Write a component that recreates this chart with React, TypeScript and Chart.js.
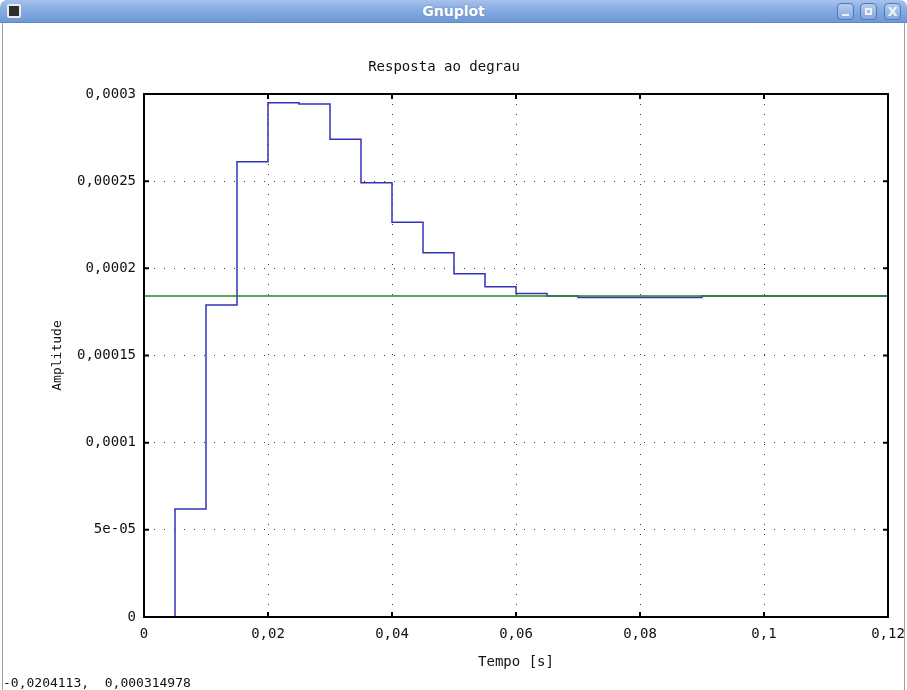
import React, { useEffect, useRef } from "react";
import { Chart, registerables } from "chart.js";

Chart.register(...registerables);

// ---- data ----
const stepTimes = [
  0, 0.005, 0.01, 0.015, 0.02, 0.025, 0.03, 0.035, 0.04, 0.045, 0.05, 0.055,
  0.06, 0.065, 0.07, 0.075, 0.08, 0.085, 0.09, 0.095, 0.1, 0.105, 0.11, 0.115, 0.12,
];
const stepAmplitude = [
  0, 6.2e-5, 1.789e-4, 2.611e-4, 2.95e-4, 2.943e-4, 2.74e-4, 2.491e-4, 2.264e-4,
  2.089e-4, 1.969e-4, 1.894e-4, 1.856e-4, 1.841e-4, 1.832e-4, 1.832e-4, 1.832e-4,
  1.832e-4, 1.841e-4, 1.841e-4, 1.841e-4, 1.841e-4, 1.841e-4, 1.841e-4, 1.841e-4,
];
const finalTimes = [0, 0.12];
const finalAmplitude = [1.841e-4, 1.841e-4];

const xTickValues = [0, 0.02, 0.04, 0.06, 0.08, 0.1, 0.12];
const xTickLabels = ["0", "0,02", "0,04", "0,06", "0,08", "0,1", "0,12"];
const yTickValues = [0, 5e-5, 1e-4, 1.5e-4, 2e-4, 2.5e-4, 3e-4];
const yTickLabels = ["0", "5e-05", "0,0001", "0,00015", "0,0002", "0,00025", "0,0003"];

const chartTitle = "Resposta ao degrau";
const xTitle = "Tempo [s]";
const yTitle = "Amplitude";
const windowTitle = "Gnuplot";
const readout = "-0,0204113,  0,000314978";

const MONO = '"DejaVu Sans Mono", monospace';

const framePlugin = {
  id: "gnuplotFrame",
  afterDatasetsDraw(chart: any) {
    const { ctx, chartArea: a, scales } = chart;
    const len = 5;
    ctx.save();
    ctx.strokeStyle = "#000";
    ctx.lineWidth = 2;
    ctx.beginPath();
    xTickValues.forEach((v) => {
      const px = scales.x.getPixelForValue(v);
      ctx.moveTo(px, a.bottom);
      ctx.lineTo(px, a.bottom - len);
      ctx.moveTo(px, a.top);
      ctx.lineTo(px, a.top + len);
    });
    yTickValues.forEach((v) => {
      const py = scales.y.getPixelForValue(v);
      ctx.moveTo(a.left, py);
      ctx.lineTo(a.left + len, py);
      ctx.moveTo(a.right, py);
      ctx.lineTo(a.right - len, py);
    });
    ctx.stroke();
    ctx.strokeRect(a.left, a.top, a.right - a.left, a.bottom - a.top);
    ctx.restore();
  },
};

function GnuplotChart() {
  const ref = useRef<HTMLCanvasElement | null>(null);
  useEffect(() => {
    if (!ref.current) return;
    const chart = new Chart(ref.current, {
      type: "line",
      data: {
        datasets: [
          {
            label: "final",
            data: finalTimes.map((t, i) => ({ x: t, y: finalAmplitude[i] })),
            borderColor: "#23852a",
            borderWidth: 1.5,
            pointRadius: 0,
            fill: false,
          },
          {
            label: "step",
            data: stepTimes.map((t, i) => ({ x: t, y: stepAmplitude[i] })),
            borderColor: "#3232b8",
            borderWidth: 1.5,
            pointRadius: 0,
            stepped: "before",
            fill: false,
          },
        ],
      },
      options: {
        responsive: false,
        animation: false,
        devicePixelRatio: 1,
        layout: { padding: { top: 0, left: 0, right: 19, bottom: 0 } },
        plugins: {
          legend: { display: false },
          tooltip: { enabled: false },
          title: {
            display: true,
            text: chartTitle,
            color: "#111",
            font: { family: MONO, size: 14, weight: "normal" },
            padding: { top: 34.6, bottom: 18.6 },
          },
        },
        scales: {
          x: {
            type: "linear",
            min: 0,
            max: 0.12,
            afterBuildTicks: (scale: any) => {
              scale.ticks = xTickValues.map((v) => ({ value: v }));
            },
            afterFit: (scale: any) => {
              scale.height = 73;
              scale.paddingLeft = 0;
              scale.paddingRight = 0;
            },
            ticks: {
              callback: (_v: any, i: number) => xTickLabels[i],
              color: "#111",
              font: { family: MONO, size: 14 },
              padding: 9,
              maxRotation: 0,
              autoSkip: false,
            },
            grid: { color: "#3a3a3a", lineWidth: 1, drawTicks: false },
            border: { display: false, dash: [1, 9] },
            title: {
              display: true,
              text: xTitle,
              color: "#111",
              font: { family: MONO, size: 14 },
              padding: { top: 0, bottom: 19.6 },
            },
          },
          y: {
            type: "linear",
            min: 0,
            max: 3e-4,
            afterBuildTicks: (scale: any) => {
              scale.ticks = yTickValues.map((v) => ({ value: v }));
            },
            afterFit: (scale: any) => {
              scale.width = 144;
              scale.paddingTop = 0;
              scale.paddingBottom = 0;
            },
            ticks: {
              callback: (_v: any, i: number) => yTickLabels[i],
              color: "#111",
              font: { family: MONO, size: 14 },
              padding: 8,
              autoSkip: false,
            },
            grid: { color: "#3a3a3a", lineWidth: 1, drawTicks: false },
            border: { display: false, dash: [1, 9] },
            title: {
              display: true,
              text: yTitle,
              color: "#111",
              font: { family: MONO, size: 13 },
              padding: { top: 49.6, bottom: 0 },
            },
          },
        },
      },
      plugins: [framePlugin],
    } as any);
    return () => chart.destroy();
  }, []);
  return (
    <canvas
      ref={ref}
      width={907}
      height={666}
      style={{ position: "absolute", left: 0, top: 24, width: 907, height: 666 }}
    />
  );
}

const btn: React.CSSProperties = {
  position: "absolute",
  top: 3,
  width: 17,
  height: 17,
  borderRadius: 4,
  border: "1px solid #4f79b9",
  background: "linear-gradient(to bottom, #b3cbee, #86a9de)",
  boxSizing: "border-box",
};

export default function App() {
  return (
    <div
      style={{
        position: "absolute",
        left: 0,
        top: 0,
        width: 907,
        height: 690,
        background: "#fff",
        overflow: "hidden",
      }}
    >
      <div
        style={{
          position: "absolute",
          left: 0,
          top: 0,
          width: 907,
          height: 23,
          borderTopLeftRadius: 7,
          borderTopRightRadius: 7,
          background: "linear-gradient(to bottom, #a6c2eb 0%, #86ace2 45%, #6f98d5 100%)",
          borderBottom: "1px solid #5f88c6",
          boxSizing: "border-box",
        }}
      >
        <div
          style={{
            position: "absolute",
            left: 0,
            top: 0,
            width: 907,
            textAlign: "center",
            lineHeight: "22px",
            color: "#fff",
            fontFamily: '"DejaVu Sans", sans-serif',
            fontWeight: "bold",
            fontSize: 14,
            textShadow: "0 0 2px #5a7fb8",
          }}
        >
          {windowTitle}
        </div>
        <div
          style={{
            position: "absolute",
            left: 7,
            top: 4,
            width: 14,
            height: 14,
            background: "#2e2e2e",
            border: "2px solid #ececec",
            borderRadius: 2,
            boxSizing: "border-box",
          }}
        />
        <div style={{ ...btn, left: 837 }}>
          <div style={{ position: "absolute", left: 4, top: 10, width: 7, height: 2, background: "#eef3fb" }} />
        </div>
        <div style={{ ...btn, left: 860 }}>
          <div
            style={{
              position: "absolute",
              left: 4,
              top: 4,
              width: 7,
              height: 7,
              border: "2px solid #eef3fb",
              boxSizing: "border-box",
            }}
          />
        </div>
        <div
          style={{
            ...btn,
            left: 884,
            color: "#eef3fb",
            fontFamily: '"DejaVu Sans", sans-serif',
            fontWeight: "bold",
            fontSize: 13,
            lineHeight: "15px",
            textAlign: "center",
          }}
        >
          X
        </div>
      </div>
      <div style={{ position: "absolute", left: 2, top: 23, width: 1, height: 667, background: "#a0a0a0" }} />
      <div style={{ position: "absolute", left: 904, top: 23, width: 1, height: 667, background: "#a0a0a0" }} />
      <GnuplotChart />
      <div
        style={{
          position: "absolute",
          left: 3,
          top: 675,
          fontFamily: MONO,
          fontSize: 13,
          lineHeight: "15px",
          color: "#111",
          whiteSpace: "pre",
        }}
      >
        {readout}
      </div>
    </div>
  );
}
